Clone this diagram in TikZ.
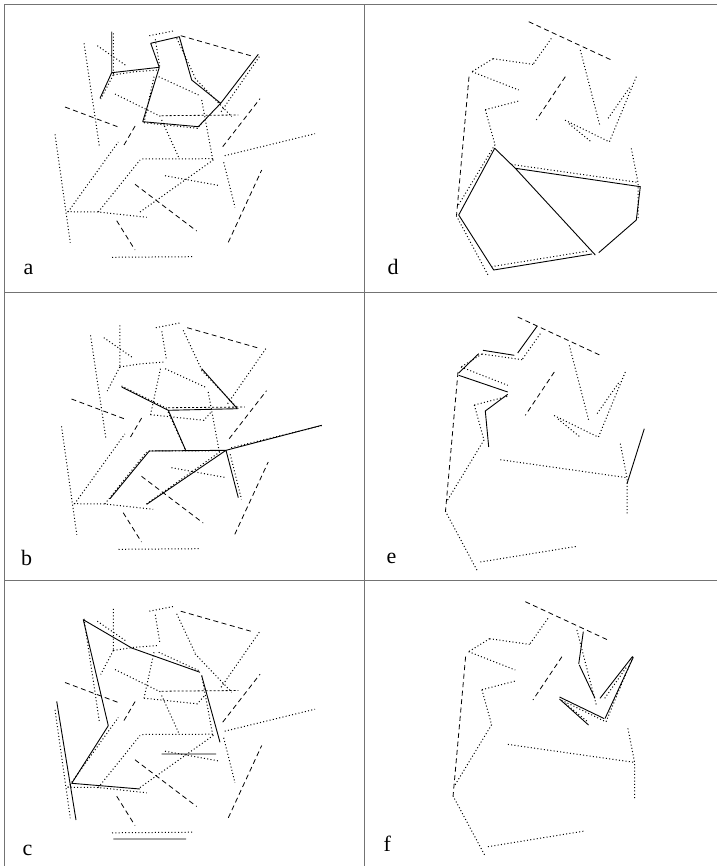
\documentclass[tikz,border=0pt]{standalone}
\usepackage{fontspec}
\setmainfont{Liberation Serif}
\begin{document}
\begin{tikzpicture}[x=1pt,y=-1pt,
    dotseg/.style={line width=1pt,dash pattern=on 1pt off 2.3pt},
    dashseg/.style={line width=.8pt,dash pattern=on 5pt off 3.5pt},
    shortseg/.style={line width=.8pt,dash pattern=on 2pt off 2pt},
    pathseg/.style={line width=.9pt,line join=round},
    every node/.style={font=\fontsize{22}{26}\selectfont,inner sep=0pt,anchor=base west}]
    \useasboundingbox (0,0) rectangle (717,866);
    \draw[black!55,line width=1.3pt] (717,4.7) -- (4.7,4.7) -- (4.7,866)
        (364.7,4.7) -- (364.7,866) (4.7,292.5) -- (717,292.5) (4.7,580.5) -- (717,580.5);
    \foreach \dx/\dy in {0/0,6.5/292,0/575.5} {
        \begin{scope}[shift={(\dx,\dy)}]
            \draw[dotseg] (149.3,35.7) -- (173.3,31) (113.3,33.3) -- (113.3,75)
                (84,43.3) -- (99.3,145.7) (97.3,45.7) -- (126.7,66) (155.3,39.3) -- (160,68.3)
                (176.7,38.3) -- (195,77.3) (259.3,56.7) -- (220,113.3)
                (113.3,75) -- (135,71.7) -- (158.7,70) (113.3,75) -- (100.7,99)
                (154,76.7) -- (144,122.7) (158.7,76.7) -- (200,95.7) (201.7,100) -- (212.7,159.3)
                (115,94) -- (162.3,117.3) (144,122.7) -- (197.3,128.3) -- (204,120.7)
                (55,134.3) -- (70.3,242.7) (68,212) -- (118.3,142)
                (67.3,211.7) -- (98.3,212) -- (146.7,217.3) (98.3,212) -- (140,160)
                (142.3,159) -- (214,158.7) (161.7,120) -- (179.3,158.7) (140,212) -- (215,158.7)
                (165,175.7) -- (220,185.7) (112,257.3) -- (192.3,256.7) (224.7,155.7) -- (315,133.7)
                (223.7,162.3) -- (235,207.3) (195,78.3) -- (231.7,116.7);
            \draw[dashseg] (180.7,35.7) -- (250.7,55.7) (65,107) -- (118.3,127) (124,145) -- (136.7,123.3)
                (135,184.3) -- (196.7,231) (116.7,220.7) -- (135,250) (222.7,146.7) -- (260,98.7)
                (228.3,242.3) -- (261.7,170);
            \draw[shortseg] (161.7,115.7) -- (238.3,115);
        \end{scope}
    }
    \foreach \dx/\dy in {11/-295.3,0/0,7.6/284.7} {
        \begin{scope}[shift={(\dx,\dy)}]
            \draw[dotseg] (540.3,333.7) -- (522,359.7) (482,354) -- (522,359.7) (482,354) -- (461,367)
                (461,367) -- (507.7,385.3) (474.3,405) -- (509,396) (474.3,405) -- (484,440) -- (447,501)
                (445.3,511) -- (477,570.3) (480.3,562) -- (577,546.3) (500.3,459.7) -- (627,477.7)
                (620.3,443.7) -- (627,477.7) -- (627,513.7) (569.3,345.3) -- (588.7,420.3)
                (554,415.5) -- (598,437) (558,419) -- (580,437)
                (625.3,372) -- (598,438) (618.5,383) -- (596.5,414.5);
            \draw[dashseg] (517.7,317) -- (600.3,355.3) (458,372) -- (445.5,511) (554.3,372) -- (525.3,415.3);
        \end{scope}
    }
    % a
    \draw[pathseg] (111.7,31.7) -- (111.7,72.7) -- (159.3,67.3) (111.7,72.7) -- (100,98.3)
        (159.3,67.3) -- (150.7,43.3) -- (179.3,36.7) -- (191.7,80) -- (220.7,103.3)
        -- (198.3,126.7) -- (142.7,121.7) -- cycle (220.7,103.3) -- (258.3,54.3);
    % b
    \draw[pathseg] (121.7,387) -- (168.3,410.3) -- (237.3,408.7) -- (201.7,368.7) (168.3,410.3) -- (186,451)
        (110,498.7) -- (149.3,451) -- (226,450.3) -- (321.7,425.3) (146.7,504.3) -- (226,450.3) -- (238.3,497.7);
    % c
    \draw[pathseg] (200,672.3) -- (131.7,648) -- (83.3,619.7) -- (108.3,725.7) -- (71.7,783.3) -- (140,789)
        (56.7,701.3) -- (76,820) (201.7,675.7) -- (220,742.3) (161.7,754) -- (216,754) (113.3,839) -- (186,839);
    % d
    \draw[pathseg] (592,254) -- (493.7,270) -- (458.7,215) -- (494.7,148.3) -- (515.3,168.3) -- (640.3,186.7)
        -- (636.3,220) -- (598.7,252.7) (515.3,168.3) -- (595.3,255);
    % e
    \draw[pathseg] (537,326.3) -- (517.7,353) (514.3,355.3) -- (483,350.3) (478.7,353.7) -- (458.7,373)
        (458.7,375.3) -- (507.7,392) (507.7,394.3) -- (485.3,411) -- (488.7,447) (644.3,428.7) -- (627,483.7);
    % f
    \draw[pathseg] (583.3,631.7) -- (578.7,664) (579.3,665) -- (595,698.3) (600,698.3) -- (632.5,656.5)
        (633.3,657.3) -- (605,718.5) (559.5,697) -- (604,718.5) (559.5,699) -- (588.5,725);
    \node (lbla) at (23.5,275) {a};
    \node (lblb) at (21,565) {b};
    \node (lblc) at (22.5,855) {c};
    \node (lbld) at (387.5,275) {d};
    \node (lble) at (386.5,563) {e};
    \node (lblf) at (383.5,851) {f};
\end{tikzpicture}
\end{document}
